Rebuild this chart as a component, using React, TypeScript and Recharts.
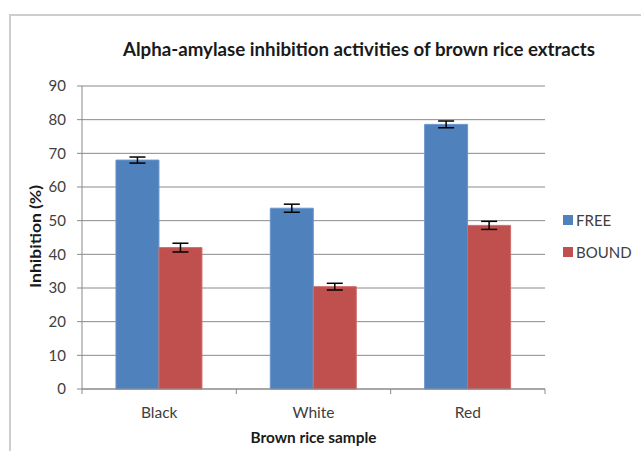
import React from 'react';
import { BarChart, Bar, XAxis, YAxis, CartesianGrid, ErrorBar, Legend } from 'recharts';

const categories = ['Black', 'White', 'Red'];
const freeValues = [68.0, 53.7, 78.6];
const boundValues = [42.0, 30.4, 48.6];
const freeErrors = [0.9, 1.2, 1.0];
const boundErrors = [1.3, 1.0, 1.2];
const yTicks = [0, 10, 20, 30, 40, 50, 60, 70, 80, 90];
const seriesNames = ['FREE', 'BOUND'];
const title = 'Alpha-amylase inhibition activities of brown rice extracts';
const xTitle = 'Brown rice sample';
const yTitle = 'Inhibition (%)';

const data = categories.map((c, i) => ({
  category: c,
  free: freeValues[i],
  bound: boundValues[i],
  freeErr: freeErrors[i],
  boundErr: boundErrors[i],
}));

const FONT = 'Lato, "Open Sans", "Liberation Sans", sans-serif';
const AXIS = '#8a8a8a';
const TEXT = '#404040';

const CategoryTick = (props: any) => {
  const { x, y, payload, index, width, visibleTicksCount } = props;
  const band = width / visibleTicksCount;
  const left = x - band / 2;
  return (
    <g>
      <line x1={left} y1={y} x2={left} y2={y + 5} stroke={AXIS} />
      {index === visibleTicksCount - 1 && (
        <line x1={x + band / 2} y1={y} x2={x + band / 2} y2={y + 5} stroke={AXIS} />
      )}
      <text x={x} y={y + 29} textAnchor="middle" fontSize={15.5} fill={TEXT} fontFamily={FONT}>
        {payload.value}
      </text>
    </g>
  );
};

const LegendContent = (props: any) => {
  const payload = [...(props.payload || [])].sort(
    (a: any, b: any) => seriesNames.indexOf(a.value) - seriesNames.indexOf(b.value)
  );
  return (
    <div style={{ fontFamily: FONT }}>
      {payload.map((p: any, i: number) => (
        <div key={i} style={{ display: 'flex', alignItems: 'center', height: 32 }}>
          <div style={{ width: 10, height: 10, background: p.color, marginRight: 3 }} />
          <span style={{ fontSize: 15, color: TEXT }}>{p.value}</span>
        </div>
      ))}
    </div>
  );
};

export default function App() {
  return (
    <div style={{ position: 'absolute', left: 0, top: 0, width: 641, height: 451, overflow: 'hidden', background: '#fff', fontFamily: FONT }}>
      <div style={{ position: 'absolute', left: 9, top: 14, width: 700, height: 500, border: '2px solid #cdcdcd', boxSizing: 'border-box' }} />
      <div style={{ position: 'absolute', left: 0, top: 0 }}>
        <BarChart
          width={641}
          height={451}
          data={data}
          margin={{ top: 86, right: 96, bottom: 32, left: 52 }}
          barCategoryGap="22%"
          barGap={0}
        >
          <CartesianGrid vertical={false} stroke={AXIS} />
          <XAxis
            dataKey="category"
            height={30}
            interval={0}
            tickLine={false}
            tickSize={0}
            tickMargin={0}
            axisLine={{ stroke: AXIS }}
            tick={<CategoryTick />}
          />
          <YAxis
            width={30}
            domain={[0, 90]}
            ticks={yTicks}
            interval={0}
            tickSize={5}
            tickMargin={11}
            axisLine={{ stroke: AXIS }}
            tickLine={{ stroke: AXIS }}
            tick={{ fontSize: 15, fill: TEXT, fontFamily: FONT }}
          />
          <Legend
            layout="vertical"
            align="center"
            verticalAlign="middle"
            content={<LegendContent />}
            wrapperStyle={{ position: 'absolute', left: 563, top: 204, width: 80 }}
          />
          <Bar dataKey="free" name={seriesNames[0]} fill="#4F81BD" stroke="#6a96cc" strokeWidth={1} isAnimationActive={false}>
            <ErrorBar dataKey="freeErr" width={8} stroke="#000" strokeWidth={1.5} direction="y" />
          </Bar>
          <Bar dataKey="bound" name={seriesNames[1]} fill="#C0504D" stroke="#cf6e6b" strokeWidth={1} isAnimationActive={false}>
            <ErrorBar dataKey="boundErr" width={8} stroke="#000" strokeWidth={1.5} direction="y" />
          </Bar>
        </BarChart>
      </div>
      <svg width={641} height={451} style={{ position: 'absolute', left: 0, top: 0, pointerEvents: 'none' }}>
        <text x={359} y={56} textAnchor="middle" fontSize={18.5} fontWeight="bold" fill="#1a1a1a" fontFamily={FONT}
          textLength={472} lengthAdjust="spacingAndGlyphs">
          {title}
        </text>
        <text x={313.5} y={443} textAnchor="middle" fontSize={15.5} fontWeight="bold" fill="#1a1a1a" fontFamily={FONT}
          textLength={126} lengthAdjust="spacingAndGlyphs">
          {xTitle}
        </text>
        <text x={0} y={0} transform="translate(41 236.5) rotate(-90)" textAnchor="middle" fontSize={16} fontWeight="bold" fill="#1a1a1a" fontFamily={FONT}
          textLength={103} lengthAdjust="spacingAndGlyphs">
          {yTitle}
        </text>
      </svg>
    </div>
  );
}
